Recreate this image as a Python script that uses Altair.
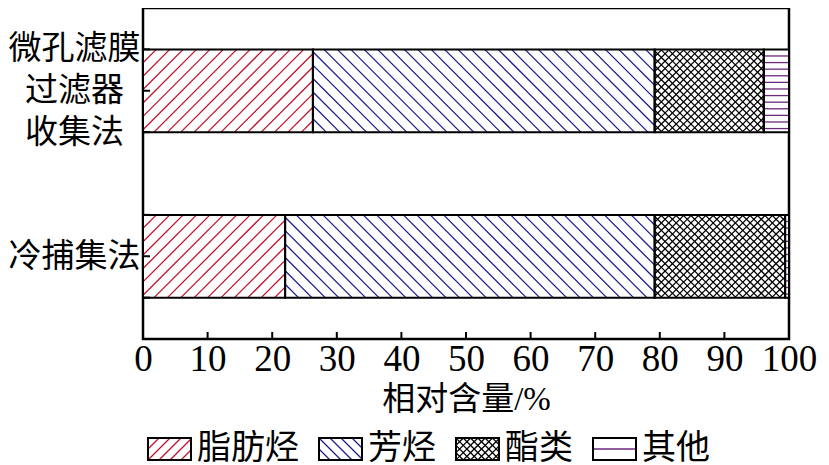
import json
import altair as alt
import numpy as np
import pandas as pd

# ---------------- data ----------------
methods = ["微孔滤膜过滤器收集法", "冷捕集法"]
method_lines = [["微孔滤膜", "过滤器", "收集法"], ["冷捕集法"]]
components = ["脂肪烃", "芳烃", "酯类", "其他"]
share_filter = [26.3, 52.9, 16.9, 3.9]
share_cold = [22.0, 57.2, 20.2, 0.6]
x_ticks = [0, 10, 20, 30, 40, 50, 60, 70, 80, 90, 100]

# ---------------- layout / style ----------------
W, H = 646, 331
KX = W / 100.0          # px per x unit
KY = H / 2.0            # px per y unit (y domain 0..2)
BAR_HALF = 0.25
LINE_H = 42
FONT = "Liberation Serif, Noto Sans CJK SC"
hatch_colors = ["#c0122c", "#1c1c8e", "#000000", "#6b2a7b"]
hatch_style = {"脂肪烃": ("fwd", 13.4), "芳烃": ("bwd", 13.4),
               "酯类": ("cross", 7.4), "其他": ("horiz", 6.6)}
legend_style = {"脂肪烃": ("fwd", 11), "芳烃": ("bwd", 11),
                "酯类": ("cross", 7.3), "其他": ("horiz", 11)}
LEG_FONT = 34


def hatch(x0p, x1p, y0p, y1p, kind, s):
    """Hatch segments (pixel space) clipped to a rectangle."""
    out = []
    kinds = ["fwd", "bwd"] if kind == "cross" else [kind]
    for k in kinds:
        if k == "fwd":      # px + py = c
            c = x0p + y0p + s
            while c < x1p + y1p:
                lo, hi = max(x0p, c - y1p), min(x1p, c - y0p)
                if hi - lo > 0.5:
                    out.append((lo, c - lo, hi, c - hi))
                c += s
        elif k == "bwd":    # py = px - c
            c = x0p - y1p + s
            while c < x1p - y0p:
                lo, hi = max(x0p, y0p + c), min(x1p, y1p + c)
                if hi - lo > 0.5:
                    out.append((lo, lo - c, hi, hi - c))
                c += s
        else:               # horizontal
            c = y0p + s
            while c < y1p - 0.5:
                out.append((x0p, c, x1p, c))
                c += s
    return out


# bar segments
seg_rows, line_rows = [], []
for i, vals in enumerate([share_filter, share_cold]):
    cum = 0.0
    for comp, v in zip(components, vals):
        x0, x1 = cum, cum + v
        y0, y1 = i + 0.5 - BAR_HALF, i + 0.5 + BAR_HALF
        seg_rows.append(dict(method=methods[i], comp=comp, x0=x0, x1=x1, y0=y0, y1=y1))
        kind, s = hatch_style[comp]
        for (ax, ay, bx, by) in hatch(x0 * KX, x1 * KX, y0 * KY, y1 * KY, kind, s):
            line_rows.append(dict(comp=comp, x=ax / KX, y=ay / KY, x2=bx / KX, y2=by / KY))
        cum = x1
seg_df = pd.DataFrame(seg_rows)

# legend (positions in px relative to plot area, converted to data units)
leg_rows, leg_text = [], []
cur = 5.0
BOX_W, BOX_TOP, BOX_BOT = 43.0, 430.0, 452.0
for comp in components:
    bx0, bx1 = cur, cur + BOX_W
    leg_rows.append(dict(comp=comp, x0=bx0 / KX, x1=bx1 / KX, y0=BOX_TOP / KY, y1=BOX_BOT / KY))
    kind, s = legend_style[comp]
    for (ax, ay, bx, by) in hatch(bx0, bx1, BOX_TOP, BOX_BOT, kind, s):
        line_rows.append(dict(comp=comp, x=ax / KX, y=ay / KY, x2=bx / KX, y2=by / KY))
    lx = bx1 + 6
    leg_text.append(dict(comp=comp, x=lx / KX, y=(BOX_TOP + BOX_BOT) / 2 / KY))
    cur = lx + len(comp) * LEG_FONT + 20
leg_df = pd.DataFrame(leg_rows)
leg_text_df = pd.DataFrame(leg_text)
line_df = pd.DataFrame(line_rows)

xtick_df = pd.DataFrame({"v": [t for t in x_ticks if 0 < t < 100]})
ytick_df = pd.DataFrame({"v": [i + 0.5 + d for i in range(len(methods)) for d in (-BAR_HALF, 0, BAR_HALF)]})

xscale = alt.Scale(domain=[0, 100], nice=False, zero=False)
yscale = alt.Scale(domain=[0, 2], nice=False, zero=False, reverse=True)
color_scale = alt.Scale(domain=components, range=hatch_colors)

label_expr = json.dumps(method_lines, ensure_ascii=False) + "[floor(datum.value)]"
# centre multi-line labels on their category
offset_conditions = [
    {"test": f"floor(datum.value) == {i}", "value": -(len(lines) - 1) * LINE_H / 2}
    for i, lines in enumerate(method_lines) if len(lines) > 1
]
label_offset = {"condition": offset_conditions, "value": 0}

x_axis = alt.Axis(
    values=x_ticks, ticks=False, domain=False, grid=False, labelFlush=False,
    labelOverlap=False, labelPadding=2, labelFont=FONT, labelFontSize=37,
    labelColor="black", title="相对含量/%", titleFont=FONT, titleFontSize=33,
    titleFontWeight="normal", titleColor="black", titlePadding=6)
y_axis = alt.Axis(
    values=[i + 0.5 for i in range(len(methods))], ticks=False, domain=False,
    grid=False, labelExpr=label_expr, labelAlign="center", labelBaseline="middle",
    labelPadding=69, labelFont=FONT, labelFontSize=33, labelLineHeight=LINE_H,
    labelOffset=label_offset,
    labelColor="black", labelFlush=False, labelOverlap=False, title=None)


def X(f):
    return alt.X(f, scale=xscale, axis=x_axis)


def Y(f):
    return alt.Y(f, scale=yscale, axis=y_axis)


bars_fill = alt.Chart(seg_df).mark_rect(fill="white", strokeWidth=0).encode(
    x=X("x0:Q"), x2="x1:Q", y=Y("y0:Q"), y2="y1:Q")

leg_fill = alt.Chart(leg_df).mark_rect(fill="white", strokeWidth=0).encode(
    x=X("x0:Q"), x2="x1:Q", y=Y("y0:Q"), y2="y1:Q")

hatch_lines = alt.Chart(line_df).mark_rule(strokeWidth=1.3).encode(
    x=X("x:Q"), x2="x2:Q", y=Y("y:Q"), y2="y2:Q",
    color=alt.Color("comp:N", scale=color_scale, legend=None),
)

bars_outline = alt.Chart(seg_df).mark_rect(fillOpacity=0, stroke="black", strokeWidth=2).encode(
    x=X("x0:Q"), x2="x1:Q", y=Y("y0:Q"), y2="y1:Q")

leg_outline = alt.Chart(leg_df).mark_rect(fillOpacity=0, stroke="black", strokeWidth=2).encode(
    x=X("x0:Q"), x2="x1:Q", y=Y("y0:Q"), y2="y1:Q")

leg_labels = alt.Chart(leg_text_df).mark_text(
    align="left", baseline="middle", font=FONT, fontSize=LEG_FONT, color="black").encode(
    x=X("x:Q"), y=Y("y:Q"), text="comp:N")

xticks = alt.Chart(xtick_df).mark_rule(color="black", strokeWidth=2).encode(
    x=X("v:Q"), y=alt.value(H), y2=alt.value(H - 7))
yticks = alt.Chart(ytick_df).mark_rule(color="black", strokeWidth=2).encode(
    y=Y("v:Q"), x=alt.value(0), x2=alt.value(7))

chart = alt.layer(
    bars_fill, leg_fill, hatch_lines, bars_outline, leg_outline, leg_labels, xticks, yticks
).properties(width=W, height=H, padding=0, background="white").configure_view(
    stroke="black", strokeWidth=2.5
)

chart.save("out.html", embed_options={"renderer": "svg", "actions": False})
